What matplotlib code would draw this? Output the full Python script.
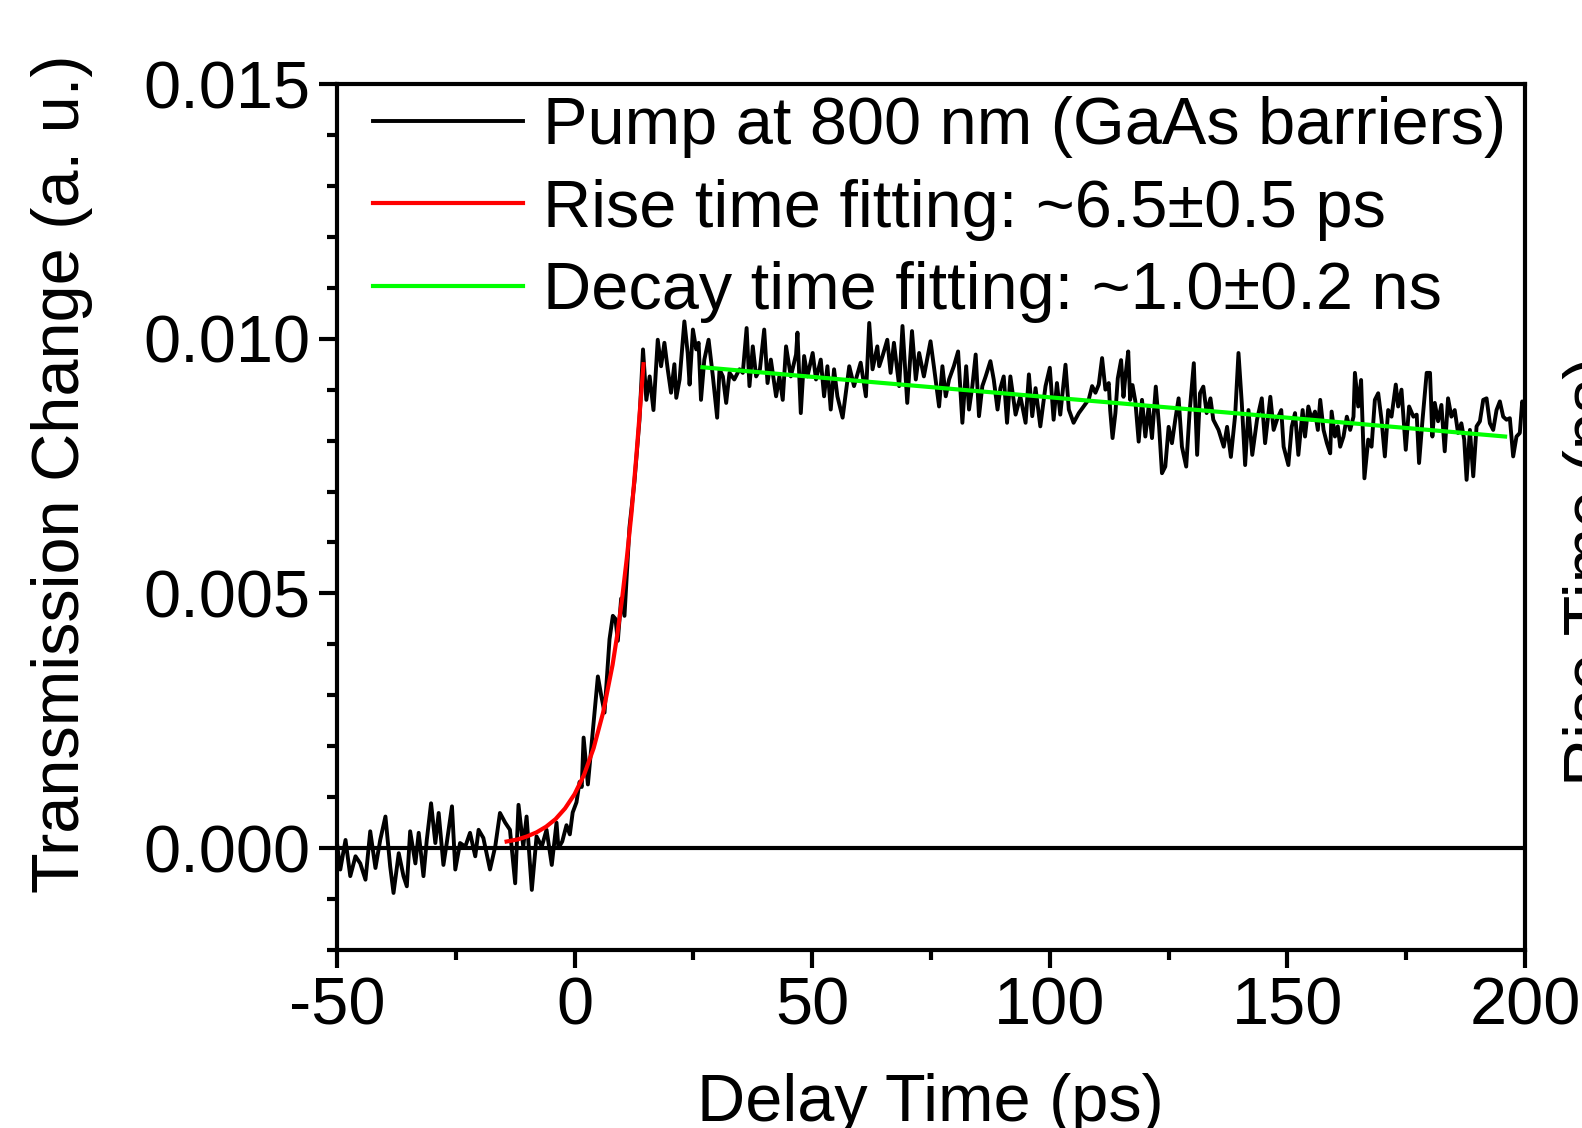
import numpy as np
import matplotlib
matplotlib.use("Agg")
from matplotlib import pyplot as plt
from matplotlib.ticker import MultipleLocator, FormatStrFormatter

plt.rcParams['font.family'] = ['Liberation Sans', 'DejaVu Sans']
plt.rcParams['axes.unicode_minus'] = False

# pump-probe trace (signal in units of 1e-4)
delay = [-50, -49.3, -48.2, -47.2, -46.1, -45.1, -44, -43, -41.9, -40.9, -39.8, -38.8, -38.1,
         -37, -36, -35.3, -34.6, -33.5, -32.8, -31.8, -31.1, -30.2, -29.3, -28.6, -27.6, -26.9,
         -25.8, -25.1, -24.1, -23, -22, -20.9, -20.2, -19.2, -17.8, -16.7, -15.7, -14.6, -13.6,
         -12.5, -11.8, -10.8, -10.1, -9, -8, -6.9, -5.9, -4.8, -3.8,
         -3.4, -2.6, -1.7, -1.0, -0.4, 0.4, 1.05, 1.5, 1.9, 2.8, 3.85, 4.9, 5.6, 6.3, 7.35, 8.05,
         8.6, 9.1, 9.8, 10.5, 11.55, 12.6, 13.65, 14.4,
         15.1, 15.8, 16.6, 17.5, 18.2, 18.9, 19.6, 20.3, 21.0, 21.4, 22.1, 23.1, 23.8, 24.2, 24.9,
         25.6, 26.1, 26.6, 27.3, 28.2, 29.1, 30.0, 30.5, 31.2, 31.9, 32.6, 33.6, 34.7, 35.4, 36.2,
         36.8, 37.5, 38.2, 39.0, 39.9, 40.6, 41.3, 42.4, 43.1, 43.8, 44.5, 45.5, 46.6, 46.9, 47.6,
         48.3, 49.0, 50.1, 50.8, 51.8, 52.5, 53.2, 53.9, 54.6, 55.3, 56.4, 57.8, 58.8, 60.2, 61.3,
         62.0, 62.7, 63.7,
         64.1, 64.8, 65.8, 66.5, 67.2, 68.3, 69.0, 70.0, 71.0, 71.8, 72.5, 73.5, 74.9, 75.6, 76.7,
         77.4, 78.1, 78.8, 79.8, 80.7, 81.6, 82.4, 83.0, 83.7, 84.4, 85.1, 85.8, 86.5, 87.5, 88.2,
         89.0, 89.6, 90.3, 91.0, 91.7, 92.8, 93.8, 94.9, 95.6, 96.3, 97.0, 98.0, 99.1, 100.0,
         100.8, 101.5, 102.2, 103.3, 104.0, 105.0, 106.1, 107.1, 108.2, 108.9, 109.6, 110.3,
         111.0, 111.7, 112.4,
         112.7, 113.2, 113.8, 114.3, 115.0, 115.5, 115.9, 116.5, 116.9, 117.4, 118.0, 118.7,
         119.4, 120.1, 120.8, 121.5, 122.3, 123.0, 123.6, 124.3, 125.0, 125.7, 126.4, 127.1,
         127.8, 128.7, 129.4, 130.3, 131.0, 131.6, 132.3, 133.0, 133.8, 134.4, 135.5, 136.6,
         137.3, 138.1, 139.0, 139.7, 140.4, 141.1, 141.8, 142.6, 143.6, 144.6, 145.3, 146.4,
         147.1, 147.8, 148.7, 149.2, 150.2, 150.9, 151.6, 152.3, 153.2, 153.7, 154.4, 155.1, 155.8,
         156.4, 156.9, 157.6, 158.3, 159.0, 159.3, 160.0, 160.6, 161.1, 161.8, 162.5, 163.2,
         163.9, 164.2, 164.9, 165.5, 166.2, 167.0, 167.7, 168.4, 169.1, 169.8, 170.5, 171.2,
         171.9, 172.8, 173.3, 174.0, 174.9, 175.6, 176.5, 177.2, 177.7, 178.4, 179.3, 180.0,
         180.5, 181.0, 181.7, 182.4, 183.1, 183.8, 184.5, 185.2, 185.9, 186.6, 187.2, 187.7,
         188.4, 189.1, 189.8, 190.5, 191.2, 191.9, 192.6, 193.3, 194.0, 194.7, 195.4, 196.1,
         196.8, 197.5, 198.2, 198.9, 199.4, 200.0]
signal = [1.0, -4.2, 1.6, -5.5, -1.6, -3.0, -6.2, 3.3, -3.9, 1.6, 6.2, -3.6, -8.8,
          -1.0, -5.5, -7.5, 3.3, -3.0, 3.0, -5.5, 1.6, 8.8, 1.0, 6.9, -3.3, 1.0,
          8.2, -4.2, 1.0, 0.3, 3.0, -1.6, 3.6, 2.0, -4.2, 0.3, 6.9, 5.0, 3.6,
          -6.9, 8.5, 0.3, 6.2, -8.2, 2.3, 0.3, 3.6, -3.3, 5.0,
          0.0, 1.3, 4.5, 2.7, 7.0, 9.0, 13.0, 12.0, 21.7, 12.5, 23.0, 33.7, 30.0, 26.6, 41.0, 45.6,
          45.0, 40.7, 49.0, 45.6, 63.0, 72.0, 84.0, 97.9,
          88.0, 92.6, 86.0, 99.8, 94.6, 99.2, 94.0, 89.4, 95.0, 88.4, 92.0, 103.4, 97.2, 91.0, 101.8,
          97.9, 99.2, 88.0, 95.9, 99.8, 92.6, 84.5, 94.0, 92.6, 87.4, 93.3, 92.0, 94.0, 93.3, 102.1,
          90.7, 98.5, 92.6, 94.0, 101.8, 91.3, 95.9, 88.7, 92.6, 88.0, 98.5, 92.6, 96.9, 101.2, 85.4,
          96.6, 92.6, 97.2, 92.0, 95.9, 88.7, 94.6, 86.1, 94.0, 88.7, 84.5, 94.6, 90.7, 95.3, 88.7,
          103.1, 94.0, 98.5,
          94.6, 96.6, 99.8, 93.3, 99.2, 90.7, 102.5, 87.4, 101.5, 92.0, 97.2, 92.6, 99.5, 94.6, 86.7,
          94.6, 88.7, 92.0, 94.6, 97.5, 83.5, 94.6, 86.1, 90.7, 96.9, 84.8, 90.7, 92.6, 95.6, 92.0,
          86.1, 90.3, 92.6, 83.5, 92.6, 85.1, 88.7, 83.5, 93.0, 84.8, 90.3, 82.8, 90.7, 94.3,
          84.1, 91.3, 85.1, 94.9, 86.1, 83.5, 85.4, 86.7, 88.1, 90.7, 89.4, 91.0,
          96.2, 90.0, 91.3,
          86.0, 80.5, 85.4, 92.2, 95.8, 88.6, 92.6, 97.5, 88.0, 90.9, 87.7, 79.8,
          88.0, 80.8, 86.7, 80.5, 90.6, 82.7, 73.6, 74.9, 82.7, 79.5, 84.1, 88.3,
          78.8, 74.9, 85.4, 95.2, 77.2, 89.3, 90.6, 85.4, 88.3, 84.1, 82.1, 78.8,
          82.7, 76.8, 85.0, 97.2, 87.3, 75.2, 86.0, 77.2, 84.1, 88.3, 79.5, 88.6,
          82.1, 84.1, 86.0, 78.8, 75.2, 82.7, 85.4, 77.2, 86.0, 80.8, 86.7, 84.1, 85.7,
          82.1, 88.0, 82.1, 79.5, 77.5, 85.7, 80.8, 82.8, 78.8, 80.8, 84.7, 82.1,
          84.7, 93.3, 86.7, 91.9, 72.6, 80.2, 78.8, 88.0, 89.3, 84.1, 76.9, 86.0,
          84.7, 91.0, 86.7, 90.0, 78.2, 86.7, 84.7, 85.1, 75.6, 83.8, 93.3, 93.3,
          80.8, 87.4, 83.8, 87.0, 77.9, 88.3, 84.7, 86.0, 81.5, 83.4, 80.2, 72.3,
          82.1, 73.0, 82.8, 83.8, 88.0, 88.3, 83.4, 82.1, 86.0, 87.7, 84.7, 84.1,
          84.4, 76.9, 80.8, 81.5, 87.7, 86.0]

# rise fit (red) and decay fit (green)
rise_t = [-14.3, -12, -10, -8, -6, -4, -2, 0, 2, 4, 6, 8, 9, 10, 11, 12, 13, 14, 14.5]
rise_v = [1.3, 1.7, 2.3, 3.1, 4.2, 5.7, 7.8, 10.6, 14.4, 19.6, 26.6, 36, 42, 49, 57, 66, 77, 89, 95]
decay_t = [26.9, 60, 100, 150, 195.8]
decay_v = [94.4, 91.7, 88.5, 84.5, 80.8]

labels = ["Pump at 800 nm (GaAs barriers)",
          "Rise time fitting: ~6.5\u00b10.5 ps",
          "Decay time fitting: ~1.0\u00b10.2 ns"]

fig = plt.figure(figsize=(15.82, 11.28), dpi=100)
ax = fig.add_axes([0.2130, 0.1578, 0.7510, 0.7677])

fs = 48
l1, = ax.plot(delay, np.array(signal) * 1e-4, color='black', lw=2.8)
ax.axhline(0, color='black', lw=3)
l2, = ax.plot(rise_t, np.array(rise_v) * 1e-4, color='#ff0000', lw=3)
l3, = ax.plot(decay_t, np.array(decay_v) * 1e-4, color='#00ff00', lw=3)

ax.set_xlim(-50, 200)
ax.set_ylim(-0.002, 0.015)
ax.xaxis.set_major_locator(MultipleLocator(50))
ax.xaxis.set_minor_locator(MultipleLocator(25))
ax.yaxis.set_major_locator(MultipleLocator(0.005))
ax.yaxis.set_minor_locator(MultipleLocator(0.001))
ax.yaxis.set_major_formatter(FormatStrFormatter('%.3f'))

for s in ax.spines.values():
    s.set_linewidth(3)
ax.tick_params(which='major', direction='out', length=13, width=3, labelsize=fs, pad=6)
ax.tick_params(which='minor', direction='out', length=7, width=3)

ax.legend([l1, l2, l3], labels, loc='upper left', bbox_to_anchor=(0.03, 0.986),
          frameon=False, fontsize=fs, handlelength=2.25, handletextpad=0.3,
          labelspacing=0.31, borderpad=0, borderaxespad=0)

fig.text(62.5 / 1582, 1 - 474 / 1128, "Transmission Change (a. u.)", rotation=90,
         ha='center', va='center', fontsize=fs)
fig.text(930 / 1582, 1 - 1121 / 1128, "Delay Time (ps)", ha='center', va='baseline', fontsize=fs)
fig.text(1563 / 1582, 1 - 786 / 1128, "Rise Time (ps)", rotation=90, ha='left', va='bottom',
         fontsize=fs)

fig.savefig("out.png", dpi=100)
